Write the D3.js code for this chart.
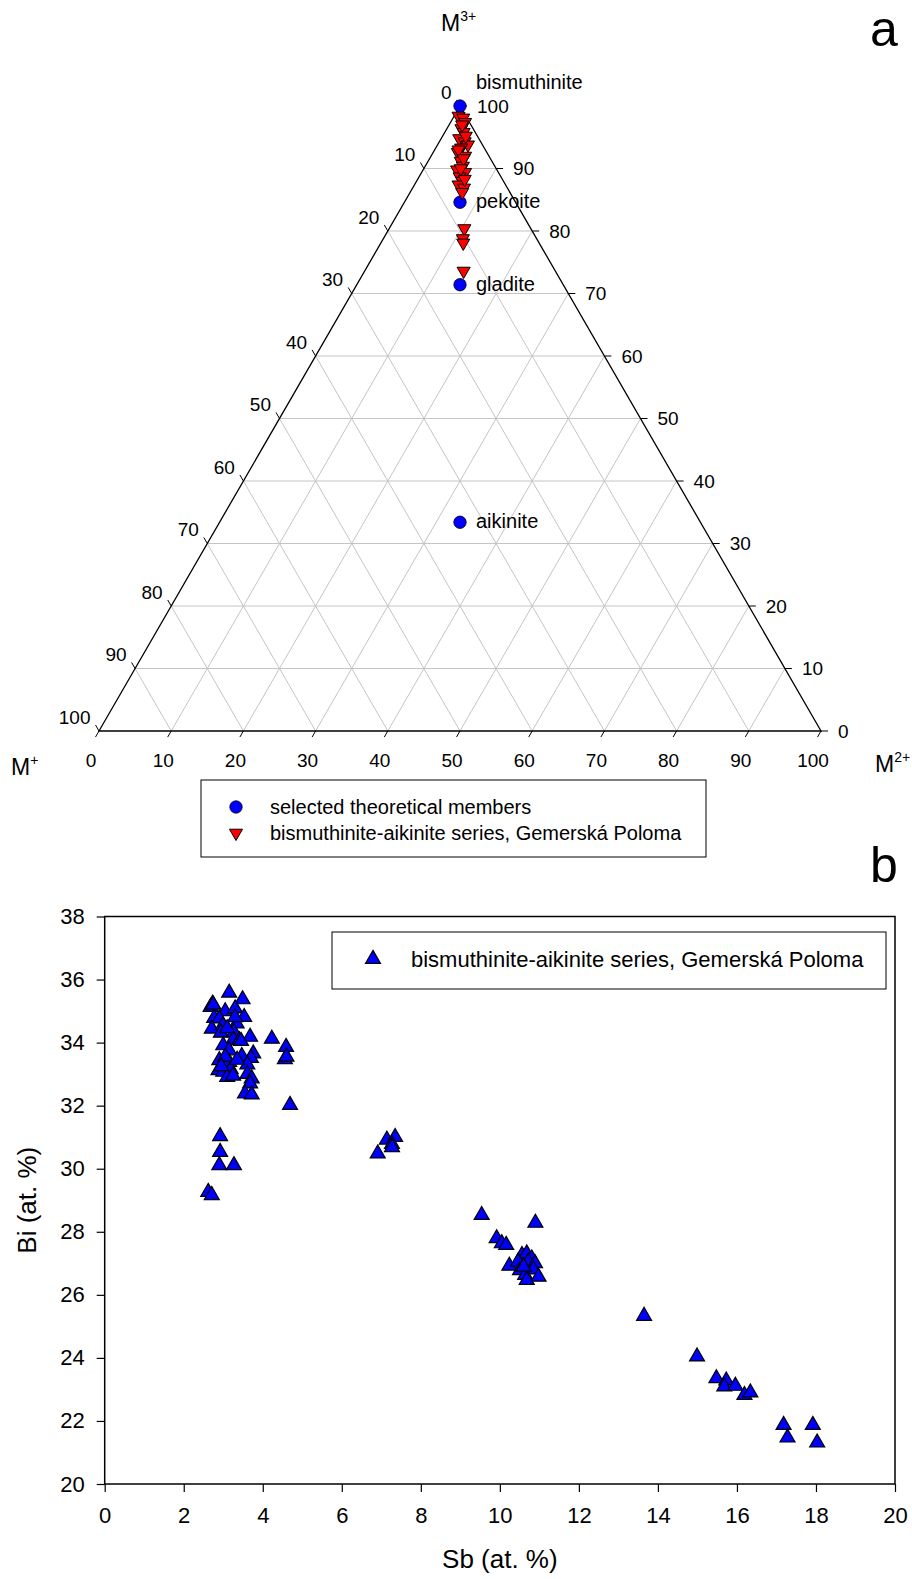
<!DOCTYPE html>
<html>
<head>
<meta charset="utf-8">
<script src="https://cdn.jsdelivr.net/npm/d3@7"></script>
<style>
  body { margin: 0; background: #fff; }
  text { font-family: "Liberation Sans", Arial, sans-serif; fill: #000; }
</style>
</head>
<body>
<div id="chart"></div>
<script>
// ---- data: ternary (a) ----
const memberNames = ["bismuthinite", "pekoite", "gladite", "aikinite"];
const memberMPlus = [0, 7.7, 14.3, 33.3];
const memberM2Plus = [0, 7.7, 14.3, 33.3];
const memberM3Plus = [100, 84.6, 71.4, 33.4];

const seriesMPlus  = [1.0, 0.5, 0.6, 1.6, 1.6, 2.7, 2.2, 2.0, 3.2, 4.0, 3.3, 4.3, 4.4, 5.5, 4.6, 5.7, 5.7, 6.5, 6.0, 6.6, 9.2, 10.2, 10.5, 12.7, 1.2, 1.6, 3.7, 3.7, 4.9, 5.2];
const seriesM2Plus = [0.6, 1.4, 2.0, 2.0, 2.6, 2.5, 3.5, 4.2, 3.5, 3.4, 4.7, 4.5, 5.2, 4.7, 6.0, 5.6, 6.3, 6.1, 7.1, 7.2, 10.4, 11.0, 11.4, 13.7, 1.8, 3.2, 3.3, 4.7, 5.1, 6.5];
const seriesM3Plus = [98.4, 98.1, 97.4, 96.4, 95.8, 94.8, 94.3, 93.8, 93.3, 92.6, 92.0, 91.2, 90.4, 89.8, 89.4, 88.7, 88.0, 87.4, 86.9, 86.2, 80.4, 78.8, 78.1, 73.6, 97.0, 95.2, 93.0, 91.6, 90.0, 88.3];

const ternaryTicks = [0, 10, 20, 30, 40, 50, 60, 70, 80, 90, 100];

// ---- data: scatter (b) ----
const sbValues = [3.15, 3.49, 2.73, 2.68, 3.05, 3.30, 3.53, 2.77, 2.90, 3.34, 2.71, 2.99, 2.94, 3.27, 3.68, 4.23, 4.59, 4.56, 3.26, 3.41,
  3.00, 3.15, 3.76, 3.47, 3.70, 2.90, 3.15, 3.61, 2.88, 3.19, 3.00, 3.10, 3.61, 3.72, 3.68, 3.55, 3.72, 4.69,
  3.05, 3.35, 2.95, 3.30, 3.10, 4.60, 3.25, 3.45, 2.75,
  2.92, 2.92, 2.90, 3.27, 2.62, 2.71,
  7.14, 7.35, 7.27, 7.27, 6.91,
  9.54, 10.90, 9.92, 10.05, 10.16, 10.24, 10.56, 10.68, 10.81, 10.46, 10.72, 10.89, 10.51, 10.85, 10.64, 10.98, 10.68, 10.60,
  13.65, 14.99, 15.48, 15.73, 15.68, 15.96, 16.19, 16.34, 17.18, 17.28, 17.92, 18.03];
const biValues = [35.58, 35.37, 35.23, 35.13, 34.99, 35.08, 34.81, 34.78, 34.76, 34.60, 34.44, 34.55, 34.31, 34.33, 34.18, 34.12, 33.86, 33.47, 34.10, 34.07,
  33.91, 33.75, 33.65, 33.57, 33.51, 33.44, 33.38, 33.30, 33.12, 33.15, 33.07, 32.91, 33.00, 32.86, 32.70, 32.38, 32.35, 32.02,
  33.55, 33.45, 33.25, 34.80, 34.45, 33.55, 32.95, 34.05, 35.20,
  31.03, 30.53, 30.11, 30.11, 29.26, 29.16,
  30.92, 31.00, 30.78, 30.68, 30.48,
  28.53, 28.28, 27.79, 27.63, 27.58, 26.92, 27.26, 27.31, 27.15, 27.05, 27.05, 27.00, 26.78, 26.80, 26.63, 26.57, 26.47, 26.89,
  25.33, 24.04, 23.35, 23.28, 23.09, 23.11, 22.82, 22.90, 21.87, 21.47, 21.87, 21.31];

const xTicks = [0, 2, 4, 6, 8, 10, 12, 14, 16, 18, 20];
const yTicks = [20, 22, 24, 26, 28, 30, 32, 34, 36, 38];

const legendA = ["selected theoretical members", "bismuthinite-aikinite series, Gemerská Poloma"];
const legendB = "bismuthinite-aikinite series, Gemerská Poloma";

const svg = d3.select("#chart").append("svg")
  .attr("width", 912)
  .attr("height", 1579);

svg.append("rect").attr("width", 912).attr("height", 1579).attr("fill", "#fff");

// ===================== ternary =====================
const tx = d3.scaleLinear().domain([0, 100]).range([99, 821]);
const ty = d3.scaleLinear().domain([0, 100]).range([731, 106]);
const pos = (mp, m2, m3) => [tx(m2 + m3 / 2), ty(m3)];

const tern = svg.append("g");
const grid = tern.append("g").attr("stroke", "#c4c4c4").attr("stroke-width", 1);
d3.range(10, 100, 10).forEach(v => {
  [[pos(100 - v, 0, v), pos(0, 100 - v, v)],
   [pos(100 - v, v, 0), pos(0, v, 100 - v)],
   [pos(v, 100 - v, 0), pos(v, 0, 100 - v)]].forEach(([p, q]) => {
    grid.append("line").attr("x1", p[0]).attr("y1", p[1]).attr("x2", q[0]).attr("y2", q[1]);
  });
});

tern.append("path")
  .attr("d", d3.line()([pos(100, 0, 0), pos(0, 100, 0), pos(0, 0, 100)]) + "Z")
  .attr("fill", "none").attr("stroke", "#000").attr("stroke-width", 1.3);

const tickLen = 7;
const ticks = tern.append("g").attr("stroke", "#000").attr("stroke-width", 1);
const tLabels = tern.append("g").style("font-size", "19px");
ternaryTicks.forEach(v => {
  // bottom: M2+
  let p = pos(100 - v, v, 0);
  let e = [p[0] - 0.5 * tickLen, p[1] + 0.866 * tickLen];
  ticks.append("line").attr("x1", p[0]).attr("y1", p[1]).attr("x2", e[0]).attr("y2", e[1]);
  tLabels.append("text").attr("x", p[0] - 8).attr("y", 767).attr("text-anchor", "middle").text(v);
  // right: M3+
  p = pos(0, 100 - v, v);
  e = [p[0] + tickLen, p[1]];
  ticks.append("line").attr("x1", p[0]).attr("y1", p[1]).attr("x2", e[0]).attr("y2", e[1]);
  tLabels.append("text").attr("x", e[0] + 10).attr("y", e[1]).attr("dy", "0.35em").text(v);
  // left: M+
  p = pos(v, 0, 100 - v);
  e = [p[0] - 0.5 * tickLen, p[1] - 0.866 * tickLen];
  ticks.append("line").attr("x1", p[0]).attr("y1", p[1]).attr("x2", e[0]).attr("y2", e[1]);
  tLabels.append("text").attr("x", e[0] - 5).attr("y", e[1] - 8).attr("dy", "0.35em")
    .attr("text-anchor", "end").text(v);
});

// corner labels
function cornerLabel(x, y, sup) {
  const t = svg.append("text").attr("x", x).attr("y", y).style("font-size", "23px");
  t.append("tspan").text("M");
  t.append("tspan").attr("dy", -10).style("font-size", "14px").text(sup);
}
cornerLabel(441, 31, "3+");
cornerLabel(11, 775, "+");
cornerLabel(875, 772, "2+");

svg.append("text").attr("x", 884).attr("y", 46).attr("text-anchor", "middle")
  .style("font-size", "50px").text("a");
svg.append("text").attr("x", 884).attr("y", 882).attr("text-anchor", "middle")
  .style("font-size", "50px").text("b");

// theoretical members
const members = memberNames.map((n, i) => ({ name: n, mp: memberMPlus[i], m2: memberM2Plus[i], m3: memberM3Plus[i] }));
tern.selectAll("circle.member").data(members).enter().append("circle")
  .attr("class", "member")
  .attr("cx", d => pos(d.mp, d.m2, d.m3)[0])
  .attr("cy", d => pos(d.mp, d.m2, d.m3)[1])
  .attr("r", 6.2)
  .attr("fill", "#0000ff").attr("stroke", "#000").attr("stroke-width", 0.8);

tern.selectAll("text.member").data(members).enter().append("text")
  .attr("class", "member")
  .attr("x", d => pos(d.mp, d.m2, d.m3)[0] + 16)
  .attr("y", d => pos(d.mp, d.m2, d.m3)[1] + (d.name === "bismuthinite" ? -17 : 6))
  .style("font-size", "20px")
  .text(d => d.name);

// measured series
const downTri = d3.symbol().type(d3.symbolTriangle).size(74);
const series = seriesM3Plus.map((m3, i) => ({ mp: seriesMPlus[i], m2: seriesM2Plus[i], m3: m3 }));
tern.selectAll("path.series").data(series).enter().append("path")
  .attr("class", "series")
  .attr("d", downTri)
  .attr("transform", d => { const p = pos(d.mp, d.m2, d.m3); return `translate(${p[0]},${p[1]}) rotate(180)`; })
  .attr("fill", "#ff0000").attr("stroke", "#000").attr("stroke-width", 1);

// legend a
const legA = svg.append("g");
legA.append("rect").attr("x", 201).attr("y", 780).attr("width", 505).attr("height", 77)
  .attr("fill", "#fff").attr("stroke", "#000").attr("stroke-width", 1);
legA.append("circle").attr("cx", 236).attr("cy", 807).attr("r", 6.2)
  .attr("fill", "#0000ff").attr("stroke", "#000").attr("stroke-width", 0.8);
legA.append("path").attr("d", downTri).attr("transform", "translate(236,833) rotate(180)")
  .attr("fill", "#ff0000").attr("stroke", "#000").attr("stroke-width", 1);
legA.selectAll("text").data(legendA).enter().append("text")
  .attr("x", 270).attr("y", (d, i) => 807 + i * 26).attr("dy", "0.35em")
  .style("font-size", "20px").text(d => d);

// ===================== scatter =====================
const x = d3.scaleLinear().domain([0, 20]).range([104.7, 895]);
const y = d3.scaleLinear().domain([20, 38]).range([1484, 916.5]);

const sc = svg.append("g");

const xAxis = sc.append("g").attr("transform", `translate(0,${y(20)})`)
  .call(d3.axisBottom(x).tickValues(xTicks).tickSize(8).tickSizeOuter(0).tickPadding(15));
const yAxis = sc.append("g").attr("transform", `translate(${x(0)},0)`)
  .call(d3.axisLeft(y).tickValues(yTicks).tickSize(8).tickSizeOuter(0).tickPadding(12));
[xAxis, yAxis].forEach(a => {
  a.select(".domain").remove();
  a.selectAll("line").attr("stroke", "#000").attr("stroke-width", 1.2);
  a.selectAll("text").style("font-size", "22px").style("font-family", "'Liberation Sans', Arial, sans-serif").attr("fill", "#000");
});

sc.append("rect")
  .attr("x", x(0)).attr("y", y(38))
  .attr("width", x(20) - x(0)).attr("height", y(20) - y(38))
  .attr("fill", "none").attr("stroke", "#000").attr("stroke-width", 1.5);

sc.append("text").attr("x", (x(0) + x(20)) / 2).attr("y", 1568)
  .attr("text-anchor", "middle").style("font-size", "26px").text("Sb (at. %)");
sc.append("text").attr("transform", `translate(36,${(y(20) + y(38)) / 2}) rotate(-90)`)
  .attr("text-anchor", "middle").style("font-size", "26px").text("Bi (at. %)");

const upTri = d3.symbol().type(d3.symbolTriangle).size(97);
const points = sbValues.map((sb, i) => ({ sb: sb, bi: biValues[i] }));
sc.selectAll("path.pt").data(points).enter().append("path")
  .attr("class", "pt")
  .attr("d", upTri)
  .attr("transform", d => `translate(${x(d.sb)},${y(d.bi)})`)
  .attr("fill", "#0000ff").attr("stroke", "#000").attr("stroke-width", 1.2);

// legend b
const legB = svg.append("g");
legB.append("rect").attr("x", 332).attr("y", 932).attr("width", 554).attr("height", 57)
  .attr("fill", "#fff").attr("stroke", "#000").attr("stroke-width", 1);
legB.append("path").attr("d", upTri).attr("transform", "translate(373,959)")
  .attr("fill", "#0000ff").attr("stroke", "#000").attr("stroke-width", 1.2);
legB.append("text").attr("x", 411).attr("y", 959).attr("dy", "0.35em")
  .style("font-size", "22px").text(legendB);
</script>
</body>
</html>
